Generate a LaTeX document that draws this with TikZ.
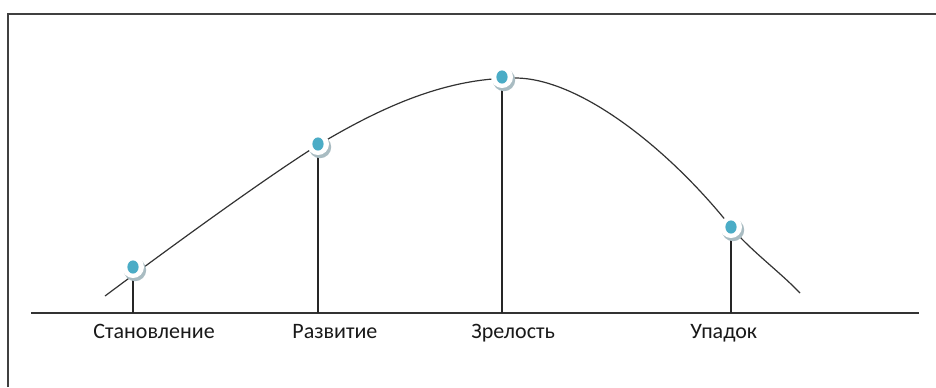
\documentclass[tikz,border=0pt]{standalone}
\usepackage{fontspec}
\setmainfont{Carlito}
\definecolor{dotblue}{HTML}{4BACC6}
\definecolor{shadowc}{HTML}{A9BCC2}
\begin{document}
\begin{tikzpicture}[x=0.5pt,y=-0.5pt,
  marker/.style={circle,fill=white,minimum size=11pt,inner sep=0pt,
     path picture={\fill[dotblue] (path picture bounding box.center) ellipse (2.8pt and 3.3pt);}},
  stem/.style={line width=0.75pt,black!85},
  curvel/.style={line width=0.6pt,black!80},
  lbl/.style={anchor=base west,inner sep=0pt,text=black!90,font=\fontsize{11}{13}\selectfont}]
\fill[white] (0,0) rectangle (936,387);
\useasboundingbox (0,0) rectangle (936,387);
% frame
\draw[line width=1pt,black!75] (8,387) -- (8,13.5) -- (936,13.5);
% axis
\coordinate (ax0) at (31,313);
\coordinate (ax1) at (919,313);
\draw[line width=0.75pt,black!80] (ax0) -- (ax1);
% curve
\draw[curvel] (105,296) .. controls (180,240) and (270,175) .. (318,145)
  .. controls (388,103) and (450,78) .. (515,78)
  .. controls (580,78) and (670,150) .. (731,227)
  .. controls (750,250) and (780,272) .. (800,293);
% stems
\foreach \n/\x/\y in {1/133/267,2/318/144,3/502/77,4/731/227}{
  \coordinate (c\n) at (\x,\y);
  \draw[stem] (c\n) -- (c\n |- ax0);
}
% markers with shadow
\foreach \n in {1,2,3,4}{
  \fill[shadowc] ([xshift=1pt,yshift=-1.5pt]c\n) circle (5.6pt);
  \node[marker] (m\n) at (c\n) {};
}
% labels
\node[lbl] (l1) at (93,338) {Становление};
\node[lbl] (l2) at (292,338) {Развитие};
\node[lbl] (l3) at (471,338) {Зрелость};
\node[lbl] (l4) at (690,338) {Упадок};
\end{tikzpicture}
\end{document}
